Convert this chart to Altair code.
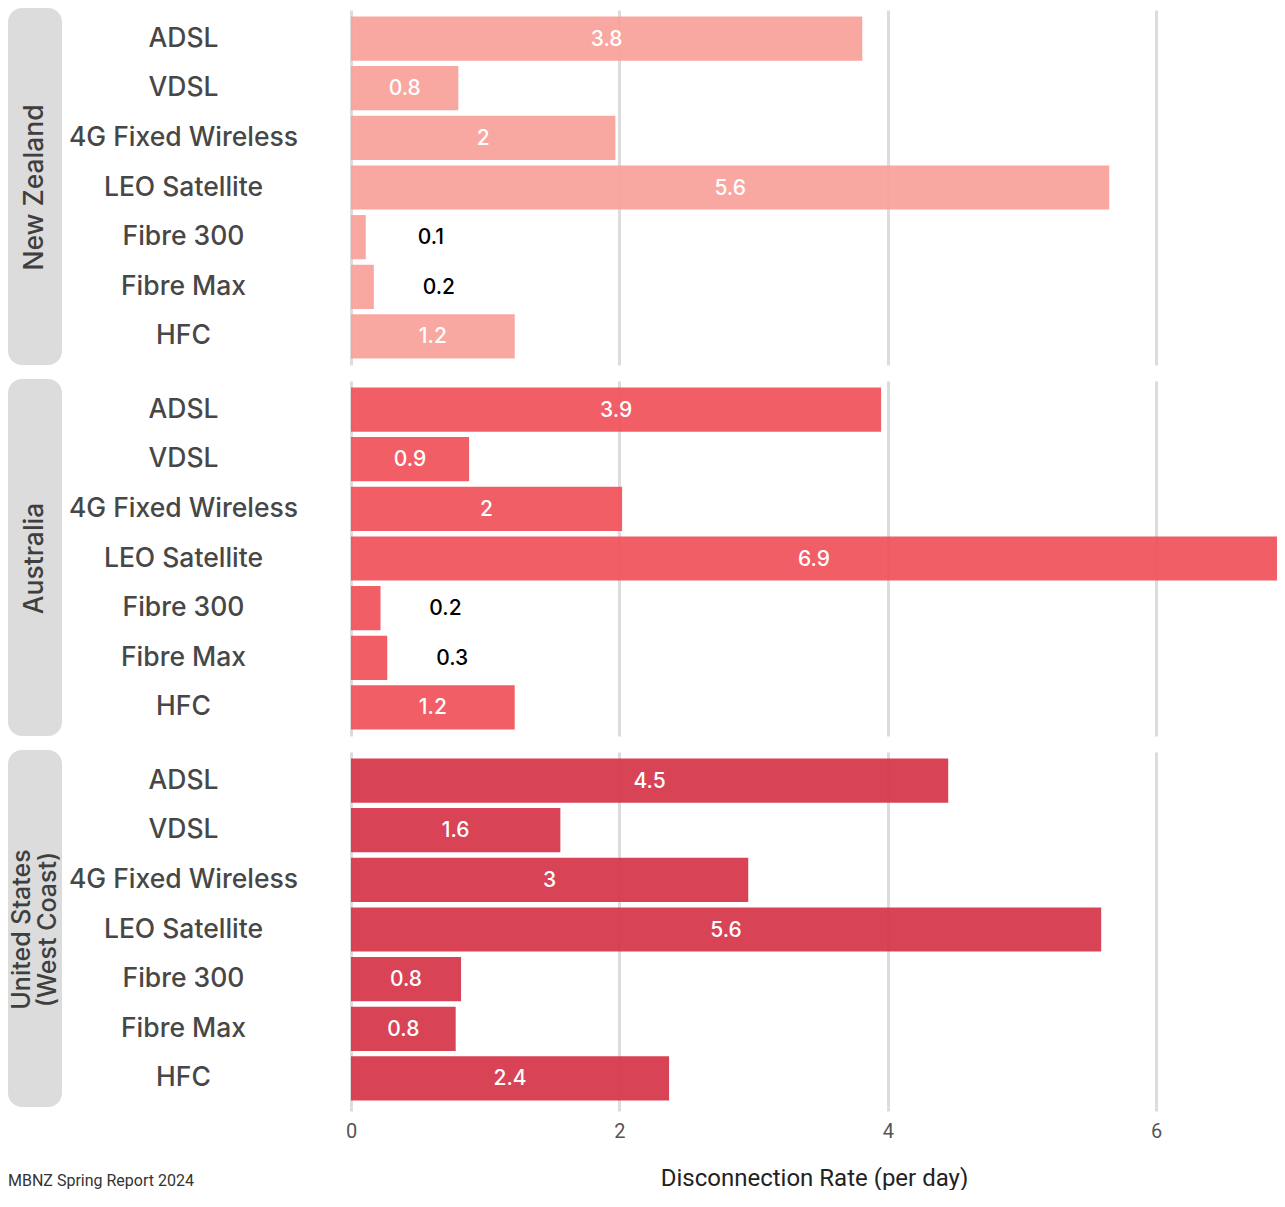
import altair as alt
import pandas as pd

countries = ["New Zealand", "Australia", "United States (West Coast)"]
country_labels = ["New Zealand", "Australia", "United States\n(West Coast)"]
types = ["ADSL", "VDSL", "4G Fixed Wireless", "LEO Satellite", "Fibre 300", "Fibre Max", "HFC"]

nz_values = [3.81, 0.80, 1.97, 5.65, 0.11, 0.17, 1.22]
au_values = [3.95, 0.88, 2.02, 6.90, 0.22, 0.27, 1.22]
us_values = [4.45, 1.56, 2.96, 5.59, 0.82, 0.78, 2.37]

nz_labels = ["3.8", "0.8", "2", "5.6", "0.1", "0.2", "1.2"]
au_labels = ["3.9", "0.9", "2", "6.9", "0.2", "0.3", "1.2"]
us_labels = ["4.5", "1.6", "3", "5.6", "0.8", "0.8", "2.4"]

colors = ["#F9A29B", "#F0545C", "#D6384B"]
caption_text = "MBNZ Spring Report 2024"

W, H = 926, 355
LABEL_FONT = "Inter"
AXIS_FONT = "Roboto"
STRIP_LEFT = -343

x_scale = alt.Scale(domain=[0, 6.9], nice=False)


def panel(country, clabel, vals, labs, color, bottom):
    df = pd.DataFrame({"type": types, "value": vals, "label": labs,
                       "country_label": [clabel] * len(types)})
    if bottom:
        x_axis = alt.Axis(values=[0, 2, 4, 6], format="d", grid=True, gridColor="#dcdcdc",
                          gridWidth=3, domain=False, ticks=True, tickColor="#dcdcdc",
                          tickWidth=3, tickSize=4, labelFlush=False,
                          labelFontSize=20, labelFont=AXIS_FONT, labelColor="#555555",
                          labelPadding=10, titleFontSize=24, titleFont=AXIS_FONT,
                          titleFontWeight="normal", titleColor="#222222", titlePadding=25)
        x_title = "Disconnection Rate (per day)"
    else:
        x_axis = alt.Axis(values=[0, 2, 4, 6], grid=True, gridColor="#dcdcdc", gridWidth=3,
                          domain=False, ticks=False, labels=False, minExtent=0, maxExtent=0,
                          labelPadding=0, tickSize=0)
        x_title = None

    y_enc = alt.Y("type:N", sort=types, title=None,
                  scale=alt.Scale(paddingInner=0.11, paddingOuter=0.13),
                  axis=alt.Axis(labelAlign="center", labelPadding=168, ticks=False, tickSize=0,
                                domain=False, grid=False, labelFontSize=26.5,
                                labelFont=LABEL_FONT, labelFontWeight=500,
                                labelColor="#474747", labelLimit=400))

    base = alt.Chart(df)
    bars = base.mark_bar(opacity=0.94, color=color).encode(
        x=alt.X("value:Q", scale=x_scale, title=x_title, axis=x_axis),
        y=y_enc,
    )
    text_in = base.transform_filter("datum.value >= 0.5").transform_calculate(
        mid="datum.value / 2"
    ).mark_text(color="white", fontSize=21, font=LABEL_FONT, fontWeight=500,
                baseline="middle", dy=1).encode(
        x=alt.X("mid:Q", scale=x_scale),
        y=alt.Y("type:N", sort=types),
        text="label:N",
    )
    text_out = base.transform_filter("datum.value < 0.5").mark_text(
        color="black", fontSize=21, font=LABEL_FONT, fontWeight=500, baseline="middle",
        align="center", dx=65, dy=1
    ).encode(
        x=alt.X("value:Q", scale=x_scale),
        y=alt.Y("type:N", sort=types),
        text="label:N",
    )
    one = base.transform_filter("datum.type == 'ADSL'")
    strip_rect = one.mark_rect(cornerRadius=14, color="#dcdcdc").encode(
        x=alt.value(STRIP_LEFT), x2=alt.value(STRIP_LEFT + 54), y=alt.value(-2), y2=alt.value(H)
    )
    n_lines = clabel.count("\n") + 1
    line_h = 26
    strip_fs = 26.5 if n_lines == 1 else 25
    text_x = STRIP_LEFT + 27 - (n_lines - 1) * line_h / 2
    strip_text = one.mark_text(
        angle=270, lineBreak="\n", fontSize=strip_fs, font=LABEL_FONT, color="#3f3f3f",
        align="center", baseline="middle", lineHeight=line_h, fontWeight=500
    ).encode(x=alt.value(text_x), y=alt.value(H / 2), text="country_label:N")

    layers = [strip_rect, strip_text, bars, text_in, text_out]
    if bottom:
        caption = one.mark_text(align="left", baseline="alphabetic", fontSize=16,
                                font=AXIS_FONT, color="#333333").encode(
            x=alt.value(STRIP_LEFT), y=alt.value(H + 79), text=alt.value(caption_text)
        )
        layers.append(caption)
    return alt.layer(*layers).properties(width=W, height=H)


panels = [
    panel(countries[0], country_labels[0], nz_values, nz_labels, colors[0], False),
    panel(countries[1], country_labels[1], au_values, au_labels, colors[1], False),
    panel(countries[2], country_labels[2], us_values, us_labels, colors[2], True),
]

chart = alt.vconcat(*panels, spacing=14).properties(
    padding={"left": 0, "top": 0, "right": 0, "bottom": 0},
    background="white",
).configure_view(stroke=None, strokeWidth=0)

chart.save("out.html", embed_options={"renderer": "svg", "actions": False})
